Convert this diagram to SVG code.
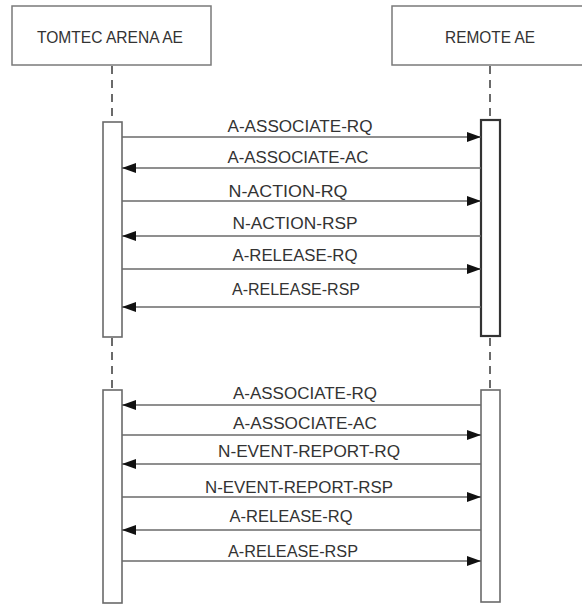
<svg xmlns="http://www.w3.org/2000/svg" width="582" height="604" viewBox="0 0 582 604">
<style>
.bg{fill:#fff}
.head{fill:#fff;stroke:#7a7a7a;stroke-width:1.5}
.lbl{font-family:"Liberation Sans",Arial,sans-serif;font-size:17px;fill:#333;text-anchor:middle}
.life{stroke:#6a6a6a;stroke-width:2;stroke-dasharray:8,6;fill:none}
.act{fill:#fff;stroke:#6a6a6a;stroke-width:1.6}
.actd{fill:#fff;stroke:#333;stroke-width:2.2}
.msg{stroke:#6a6a6a;stroke-width:1.6;fill:none;marker-end:url(#ah)}
.mt{font-family:"Liberation Sans",Arial,sans-serif;font-size:16px;fill:#333;text-anchor:middle}
</style>
<defs>
<marker id="ah" viewBox="0 0 14 10" refX="14" refY="5" markerWidth="14" markerHeight="10" markerUnits="userSpaceOnUse" orient="auto">
<path d="M0,0 L14,5 L0,10 Z" fill="#111"/>
</marker>
</defs>
<rect class="bg" width="582" height="604"/>
<g id="tomtec">
<rect class="head" x="12" y="6" width="199" height="59"/>
<text class="lbl" x="110" y="43" textLength="146" lengthAdjust="spacingAndGlyphs">TOMTEC ARENA AE</text>
<line class="life" x1="112" y1="66" x2="112" y2="121"/>
<line class="life" x1="112" y1="338" x2="112" y2="389"/>
<rect class="act" x="103" y="122" width="19" height="215"/>
<rect class="act" x="103" y="390" width="19" height="213"/>
</g>
<g id="remote">
<rect class="head" x="392" y="6" width="200" height="59"/>
<text class="lbl" x="490" y="43" textLength="90" lengthAdjust="spacingAndGlyphs">REMOTE AE</text>
<line class="life" x1="490" y1="66" x2="490" y2="119"/>
<line class="life" x1="490" y1="338" x2="490" y2="389"/>
<rect class="actd" x="481" y="120" width="19" height="216"/>
<rect class="act" x="481" y="390" width="19" height="212"/>
</g>
<g id="connectors">
<line class="msg" x1="122" y1="137" x2="481" y2="137"/>
<line class="msg" x1="481" y1="168" x2="122" y2="168"/>
<line class="msg" x1="122" y1="201" x2="481" y2="201"/>
<line class="msg" x1="481" y1="236" x2="122" y2="236"/>
<line class="msg" x1="122" y1="269" x2="481" y2="269"/>
<line class="msg" x1="481" y1="307" x2="122" y2="307"/>
<line class="msg" x1="481" y1="405" x2="122" y2="405"/>
<line class="msg" x1="122" y1="435" x2="481" y2="435"/>
<line class="msg" x1="481" y1="464" x2="122" y2="464"/>
<line class="msg" x1="122" y1="497" x2="481" y2="497"/>
<line class="msg" x1="481" y1="530" x2="122" y2="530"/>
<line class="msg" x1="122" y1="561" x2="481" y2="561"/>
</g>
<g id="labels">
<text class="mt" x="300" y="132" textLength="145" lengthAdjust="spacingAndGlyphs">A-ASSOCIATE-RQ</text>
<text class="mt" x="298" y="163" textLength="141" lengthAdjust="spacingAndGlyphs">A-ASSOCIATE-AC</text>
<text class="mt" x="288" y="197" textLength="119" lengthAdjust="spacingAndGlyphs">N-ACTION-RQ</text>
<text class="mt" x="295" y="229" textLength="125" lengthAdjust="spacingAndGlyphs">N-ACTION-RSP</text>
<text class="mt" x="295" y="261" textLength="125" lengthAdjust="spacingAndGlyphs">A-RELEASE-RQ</text>
<text class="mt" x="296" y="295" textLength="128" lengthAdjust="spacingAndGlyphs">A-RELEASE-RSP</text>
<text class="mt" x="305" y="399" textLength="144" lengthAdjust="spacingAndGlyphs">A-ASSOCIATE-RQ</text>
<text class="mt" x="305" y="429" textLength="144" lengthAdjust="spacingAndGlyphs">A-ASSOCIATE-AC</text>
<text class="mt" x="309" y="457" textLength="182" lengthAdjust="spacingAndGlyphs">N-EVENT-REPORT-RQ</text>
<text class="mt" x="299" y="493" textLength="188" lengthAdjust="spacingAndGlyphs">N-EVENT-REPORT-RSP</text>
<text class="mt" x="291" y="522" textLength="123" lengthAdjust="spacingAndGlyphs">A-RELEASE-RQ</text>
<text class="mt" x="293" y="557" textLength="130" lengthAdjust="spacingAndGlyphs">A-RELEASE-RSP</text>
</g>
</svg>
